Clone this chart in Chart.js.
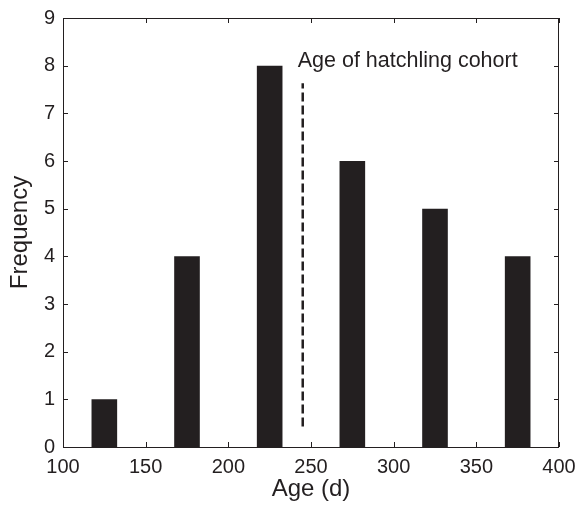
<!DOCTYPE html>
<html><head><meta charset="utf-8">
<script src="https://cdn.jsdelivr.net/npm/chart.js@4/dist/chart.umd.min.js"></script>
<style>html,body{margin:0;padding:0;background:#fff}#wrap{width:577px;height:505px}</style>
</head><body><div id="wrap"><canvas id="c" width="577" height="505"></canvas></div>
<script>
const ages = [125, 175, 225, 275, 325, 375];
const frequency = [1, 4, 8, 6, 5, 4];
const cohortAge = [245, 245];
const cohortSpan = [0.43, 7.63];
const annotationText = 'Age of hatchling cohort';
const xTicks = [100, 150, 200, 250, 300, 350, 400];
const yTicks = [0, 1, 2, 3, 4, 5, 6, 7, 8, 9];

const INK = '#231f20';
const FONT = '"Liberation Sans", Arial, Helvetica, sans-serif';

const framePlugin = {
  id: 'frame',
  afterDatasetsDraw(chart) {
    const {ctx, chartArea: a, scales: {x, y}} = chart;
    ctx.save();
    ctx.strokeStyle = INK; ctx.lineWidth = 1;
    ctx.strokeRect(a.left + 0.5, a.top + 0.5, a.right - a.left - 1, a.bottom - a.top);
    const L = 5;
    ctx.beginPath();
    xTicks.forEach(v => {
      const px = Math.round(x.getPixelForValue(v)) + 0.5;
      ctx.moveTo(px, a.bottom); ctx.lineTo(px, a.bottom - L);
      ctx.moveTo(px, a.top); ctx.lineTo(px, a.top + L);
    });
    yTicks.forEach(v => {
      const py = Math.round(y.getPixelForValue(v)) + 0.5;
      ctx.moveTo(a.left, py); ctx.lineTo(a.left + L, py);
      ctx.moveTo(a.right, py); ctx.lineTo(a.right - L, py);
    });
    ctx.stroke();
    ctx.fillStyle = INK;
    ctx.font = '21.5px ' + FONT;
    ctx.textBaseline = 'alphabetic';
    ctx.textAlign = 'left';
    ctx.fillText(annotationText, x.getPixelForValue(cohortAge[0]) - 5, y.getPixelForValue(8) + 1.5);
    ctx.restore();
  }
};

new Chart(document.getElementById('c'), {
  data: {
    datasets: [
      {
        type: 'bar',
        data: ages.map((a, i) => ({x: a, y: frequency[i]})),
        backgroundColor: INK,
        borderWidth: 0,
        barPercentage: 0.31,
        categoryPercentage: 1.0
      },
      {
        type: 'line',
        data: cohortAge.map((a, i) => ({x: a, y: cohortSpan[i]})),
        borderColor: INK,
        borderWidth: 2.5,
        borderDash: [9, 4],
        pointRadius: 0,
        fill: false
      }
    ]
  },
  options: {
    responsive: false,
    animation: false,
    devicePixelRatio: 1,
    layout: {padding: {top: 18, right: 18, left: 0, bottom: 0}},
    plugins: {legend: {display: false}, tooltip: {enabled: false}},
    scales: {
      x: {
        type: 'linear', min: 100, max: 400, offset: false,
        afterBuildTicks: s => { s.ticks = xTicks.map(v => ({value: v})); },
        afterFit: s => { s.height = 58; s.paddingLeft = 0; s.paddingRight = 0; },
        grid: {display: false, drawTicks: false, offset: false},
        border: {display: false},
        ticks: {color: INK, font: {family: FONT, size: 20}, padding: 8, maxRotation: 0},
        title: {display: true, text: 'Age (d)', color: INK, font: {family: FONT, size: 24}, padding: {top: 0, bottom: 1}}
      },
      y: {
        type: 'linear', min: 0, max: 9,
        afterBuildTicks: s => { s.ticks = yTicks.map(v => ({value: v})); },
        afterFit: s => { s.width = 63; s.paddingTop = 0; s.paddingBottom = 0; },
        grid: {display: false, drawTicks: false},
        border: {display: false},
        ticks: {color: INK, font: {family: FONT, size: 20}, padding: 8},
        title: {display: true, text: 'Frequency', color: INK, font: {family: FONT, size: 24}, padding: {top: 6, bottom: 0}}
      }
    }
  },
  plugins: [framePlugin]
});
</script></body></html>
